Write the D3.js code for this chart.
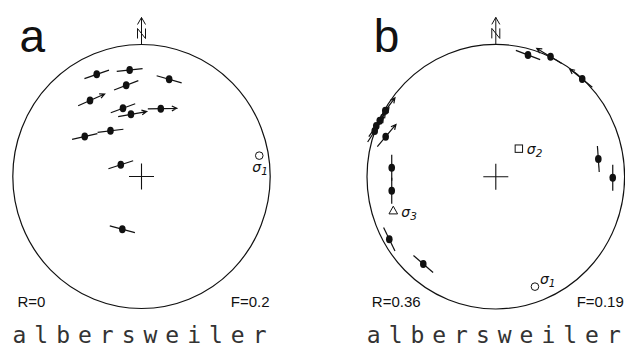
<!DOCTYPE html>
<html>
  <head>
    <meta charset="utf-8">
    <title>albersweiler</title>
    <style>
      body { margin: 0; background: #fff; }
      svg { display: block; }
    </style>
  </head>
  <body>
    <svg class='graph'></svg>
    <script type="text/javascript" src="https://d3js.org/d3.v7.min.js"></script>
    <script type="text/javascript">

var width = 625
var height = 349

// panel text
var panelLetters = ["a", "b"]
var ratioR = ["R=0", "R=0.36"]
var fitF = ["F=0.2", "F=0.19"]
var siteNames = ["albersweiler", "albersweiler"]

// slip data: [east, north] in the net (unit circle), line azimuth (deg), arrow (1 = sense shown)
var slipA = [
    [-0.348, 0.774, 71, 0],
    [-0.092, 0.807, 84, 0],
    [0.215, 0.736, 106, 0],
    [-0.119, 0.691, 69, 0],
    [-0.400, 0.576, 66, 1],
    [-0.144, 0.517, 70, 0],
    [-0.082, 0.471, 80, 1],
    [0.150, 0.514, 89, 1],
    [-0.241, 0.346, 83, 0],
    [-0.441, 0.303, 77, 0],
    [-0.161, 0.089, 72, 0],
    [-0.149, -0.400, 105, 0]
]
var slipB = [
    [0.250, 0.920, 111, 0],
    [0.425, 0.907, 301, 1],
    [0.671, 0.738, 309, 1],
    [-0.858, 0.499, 37, 1],
    [-0.901, 0.423, 35, 1],
    [-0.928, 0.383, 35, 1],
    [-0.940, 0.345, 33, 1],
    [-0.855, 0.302, 40, 1],
    [-0.808, 0.068, 0, 0],
    [-0.808, -0.106, 0, 0],
    [-0.827, -0.473, 154, 0],
    [-0.563, -0.660, 131, 0],
    [0.796, 0.134, 176, 0],
    [0.908, -0.008, 180, 0]
]

// principal stress axes: [index, symbol, east, north]
var stressA = [
    ["1", "circle", 0.915, 0.158]
]
var stressB = [
    ["1", "circle", 0.304, -0.831],
    ["2", "square", 0.179, 0.212],
    ["3", "triangle", -0.796, -0.257]
]

// layout
var nets = [
    {cx: 141.5, cy: 176.5, rx: 128.7, ry: 132.0, slip: slipA, stress: stressA,
     labelOff: {"1": [-7, 16]}},
    {cx: 495.8, cy: 176.7, rx: 128.8, ry: 132.3, slip: slipB, stress: stressB,
     labelOff: {"1": [5, -3], "2": [8, 5], "3": [8, 6]}}
]

var ink = "#111"
var svg = d3.select(".graph")
    .attr("width", width)
    .attr("height", height)

nets.forEach(function(net, i) {
    var x = d3.scaleLinear().domain([-1, 1]).range([net.cx - net.rx, net.cx + net.rx])
    var y = d3.scaleLinear().domain([-1, 1]).range([net.cy + net.ry, net.cy - net.ry])
    var g = svg.append("g")

    // primitive circle
    g.append("ellipse")
        .attr("cx", x(0)).attr("cy", y(0))
        .attr("rx", x(1) - x(0)).attr("ry", y(0) - y(1))
        .attr("fill", "none").attr("stroke", ink).attr("stroke-width", 1.2)

    // centre cross
    g.append("path")
        .attr("d", "M" + (x(0) - 12.5) + "," + y(0) + "H" + (x(0) + 12.5) +
                   "M" + x(0) + "," + (y(0) - 13) + "V" + (y(0) + 13))
        .attr("stroke", ink).attr("stroke-width", 1.1)

    // north arrow with N
    var nx = x(0), ny = y(1)
    g.append("path")
        .attr("d", "M" + nx + "," + ny + "V" + (ny - 27) +
                   "M" + (nx - 4) + "," + (ny - 20) + "L" + nx + "," + (ny - 27) + "L" + (nx + 4) + "," + (ny - 20) +
                   "M" + (nx - 4) + "," + (ny - 6) + "V" + (ny - 16) + "L" + (nx + 4) + "," + (ny - 6) + "V" + (ny - 16))
        .attr("fill", "none").attr("stroke", ink).attr("stroke-width", 1)

    // slip lines
    var marks = g.selectAll(".slip").data(net.slip).enter().append("g")
    marks.each(function(d) {
        var m = d3.select(this)
        var px = x(d[0]), py = y(d[1])
        var a = d[2] * Math.PI / 180
        var ux = Math.sin(a), uy = -Math.cos(a)
        var back = 13, front = d[3] ? 16 : 13
        var hx = px + front * ux, hy = py + front * uy
        var path = "M" + (px - back * ux) + "," + (py - back * uy) + "L" + hx + "," + hy
        if (d[3]) {
            var s = 5.5, w = 0.45
            path += "M" + (hx - s * (ux * Math.cos(w) - uy * Math.sin(w))) + "," + (hy - s * (uy * Math.cos(w) + ux * Math.sin(w))) +
                    "L" + hx + "," + hy +
                    "L" + (hx - s * (ux * Math.cos(w) + uy * Math.sin(w))) + "," + (hy - s * (uy * Math.cos(w) - ux * Math.sin(w)))
        }
        m.append("path").attr("d", path)
            .attr("fill", "none").attr("stroke", ink).attr("stroke-width", 1.2)
        m.append("ellipse")
            .attr("cx", px).attr("cy", py).attr("rx", 3.3).attr("ry", 4)
            .attr("fill", ink)
    })

    // stress axes
    net.stress.forEach(function(s) {
        var px = x(s[2]), py = y(s[3])
        if (s[1] == "circle") {
            g.append("circle").attr("cx", px).attr("cy", py).attr("r", 3.8)
                .attr("fill", "none").attr("stroke", ink).attr("stroke-width", 1)
        } else if (s[1] == "square") {
            g.append("rect").attr("x", px - 3.7).attr("y", py - 3.7).attr("width", 7.4).attr("height", 7.4)
                .attr("fill", "none").attr("stroke", ink).attr("stroke-width", 1)
        } else {
            g.append("path")
                .attr("d", "M" + px + "," + (py - 4.5) + "L" + (px + 4.3) + "," + (py + 3.2) + "L" + (px - 4.3) + "," + (py + 3.2) + "Z")
                .attr("fill", "none").attr("stroke", ink).attr("stroke-width", 1)
        }
        var off = net.labelOff[s[0]]
        var t = g.append("text")
            .attr("x", px + off[0]).attr("y", py + off[1])
            .attr("font-family", "DejaVu Sans, sans-serif")
            .attr("font-style", "italic")
            .attr("font-size", 14)
            .attr("fill", ink)
        t.append("tspan").text("σ")
        t.append("tspan").attr("font-size", 10.5).attr("dy", 3).text(s[0])
    })

    // panel letter
    g.append("text")
        .attr("x", net.cx - 122).attr("y", 52)
        .attr("font-family", "Liberation Sans, Arial, sans-serif")
        .attr("font-size", 46)
        .attr("fill", ink)
        .text(panelLetters[i])

    g.append("text")
        .attr("x", net.cx - 124).attr("y", 307)
        .attr("font-family", "Liberation Sans, Arial, sans-serif")
        .attr("font-size", 15)
        .attr("fill", ink)
        .text(ratioR[i])

    g.append("text")
        .attr("x", net.cx + 128).attr("y", 307)
        .attr("text-anchor", "end")
        .attr("font-family", "Liberation Sans, Arial, sans-serif")
        .attr("font-size", 15)
        .attr("fill", ink)
        .text(fitF[i])

    g.append("text")
        .attr("x", net.cx - 129).attr("y", 343)
        .attr("font-family", "DejaVu Sans Mono, monospace")
        .attr("font-size", 23)
        .attr("textLength", 254)
        .attr("lengthAdjust", "spacing")
        .attr("fill", "#333")
        .text(siteNames[i])
})

    </script>
  </body>
</html>
